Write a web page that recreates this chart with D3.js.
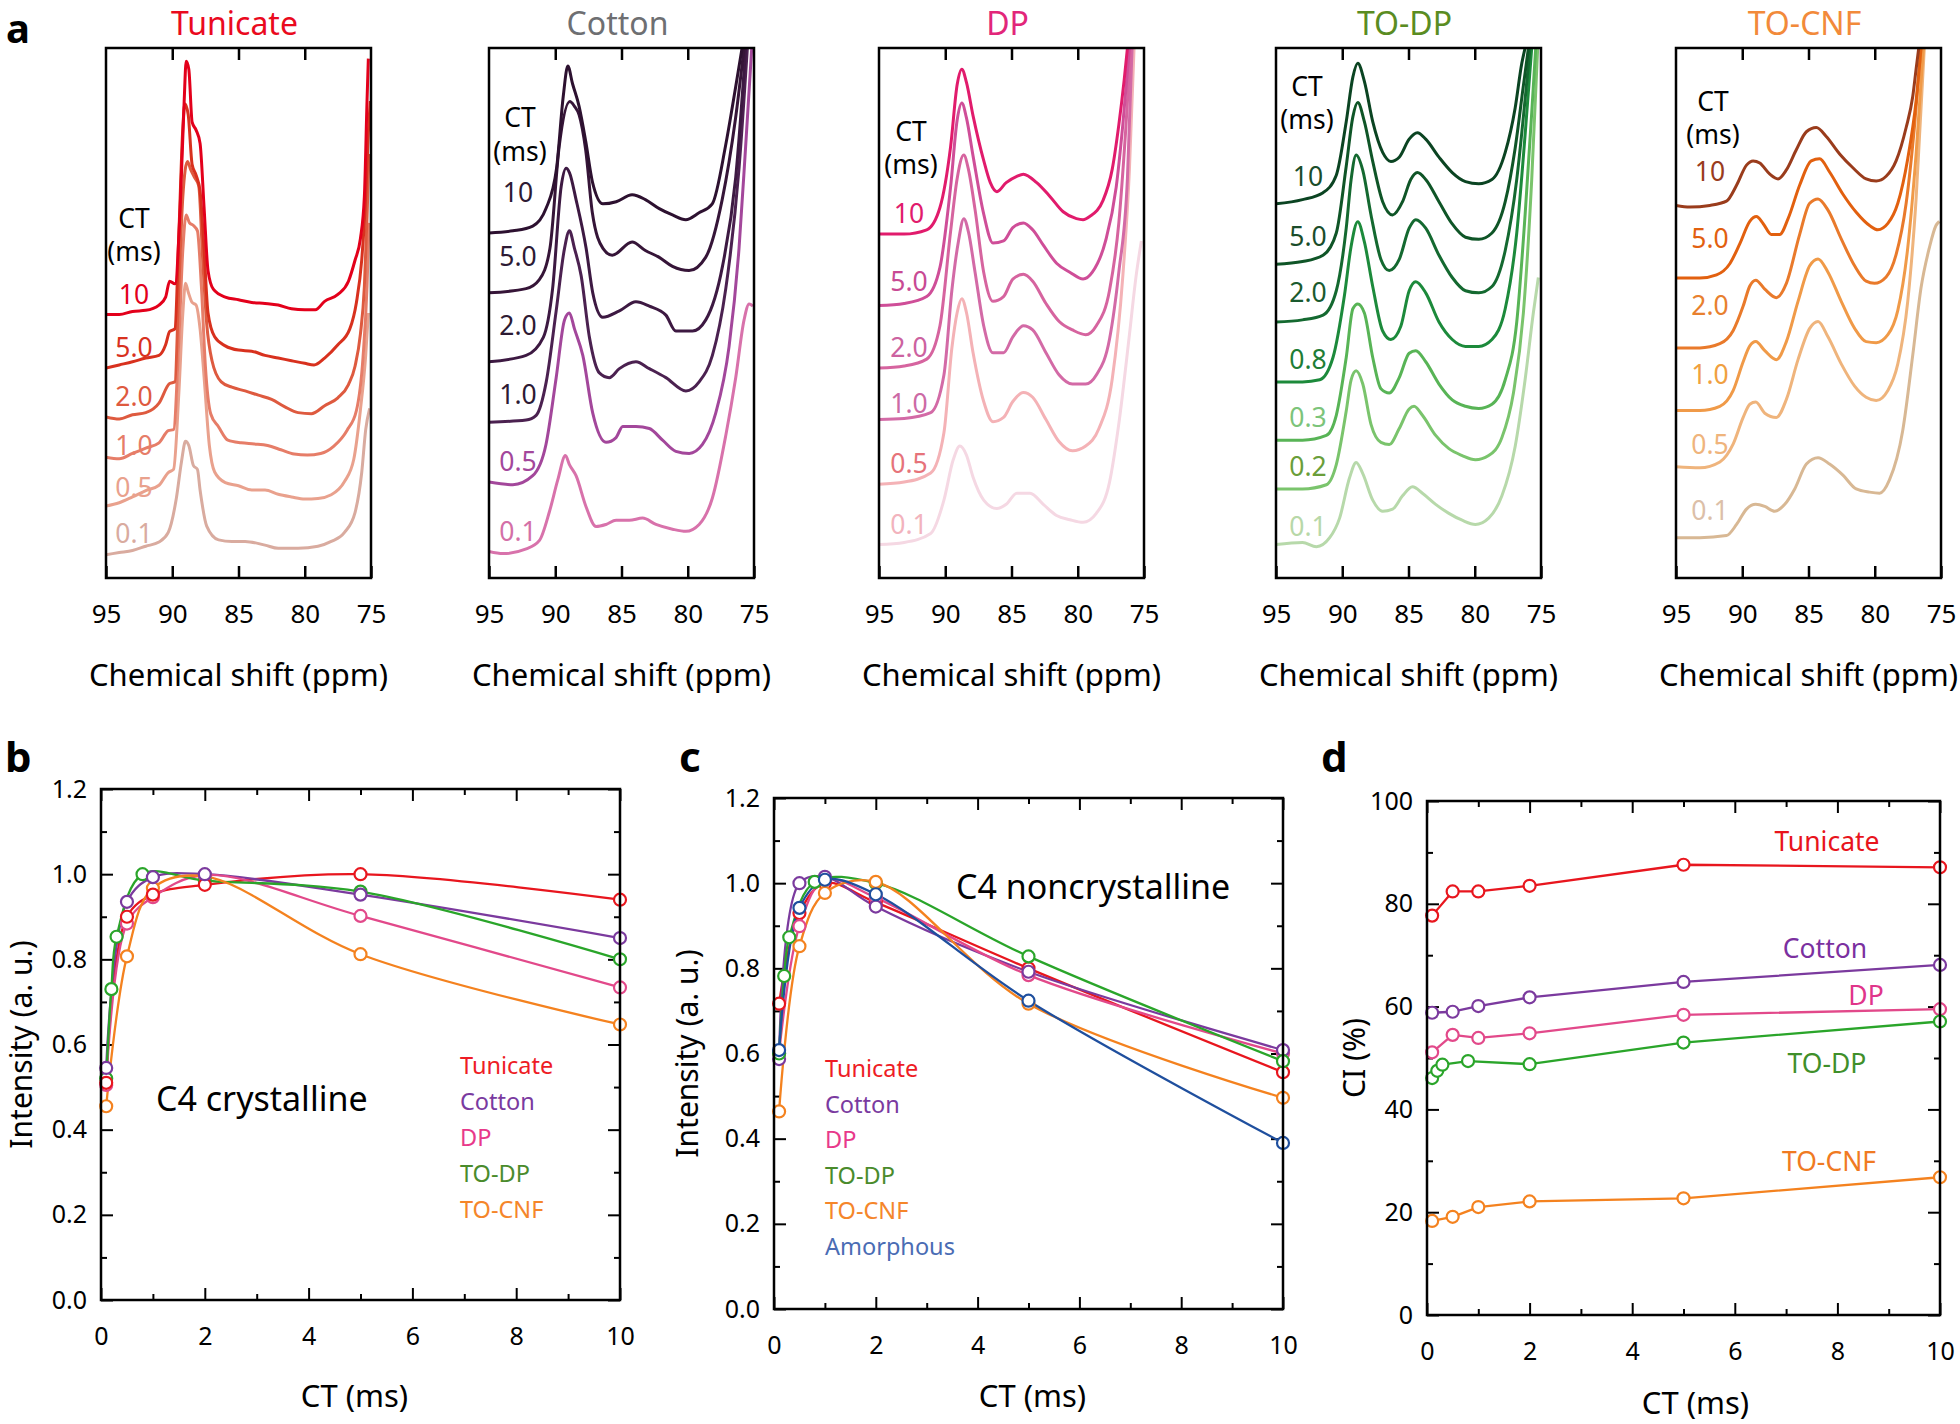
<!DOCTYPE html>
<html><head><meta charset="utf-8">
<script src="https://cdn.jsdelivr.net/npm/d3@7"></script>
<style>
body{margin:0;background:#fff;}
svg{display:block;font-family:"Noto Sans",sans-serif;}
</style></head><body>
<svg id="chart" width="1960" height="1424"></svg>
<script>
// ================= DATA =================
// Panel a: 13C spectra (chemical shift ppm, stacked intensity a.u. 0-100)
const shiftTicks = [95, 90, 85, 80, 75];
const specTitles = ["Tunicate", "Cotton", "DP", "TO-DP", "TO-CNF"];

const tunicateCT = ["10", "5.0", "2.0", "1.0", "0.5", "0.1"];
const tunicateSpectra = [
  [[95,49.7],[94,49.7],[93,50.3],[92,50.5],[91,51.5],[90.5,53],[90.2,56],[89.8,55.5],[89.4,70],[89.1,90],[88.95,97.5],[88.75,96],[88.5,86],[88.2,84.5],[87.9,82],[87.6,70],[87.3,58],[86.9,54.5],[86,53],[85,52.5],[84,52],[83,51.8],[82,51.5],[81,50.8],[80,50.6],[79.2,50.6],[78.5,52.2],[77.5,53.5],[76.7,56],[76.2,60],[75.8,64],[75.5,72],[75.3,90],[75.2,98]],
  [[95,39.6],[94,40.2],[93,40.8],[92,41.5],[91,42],[90.5,44],[90.2,46.5],[89.8,47],[89.5,65],[89.2,85],[89.05,89.5],[88.8,87.5],[88.5,78],[88.2,76],[87.9,73],[87.6,62],[87.3,50],[86.8,45.5],[86,43.8],[85,43],[84,42.8],[83,42],[82,41.5],[81,41],[80,40.5],[79.3,40.2],[78.5,41.5],[77.5,44],[76.6,47],[76.1,52],[75.7,60],[75.4,72],[75.2,84],[75.05,90]],
  [[95,30.4],[94,30],[93,30.8],[92,31.2],[91,33],[90.2,36.7],[89.8,37],[89.5,55],[89.2,72],[88.85,78.6],[88.6,77],[88.3,75.5],[88,74],[87.7,60],[87.4,48],[87,41],[86.3,37],[85.5,36],[84.5,35.3],[83.5,34.5],[82.5,33.7],[81.5,32.3],[80.5,31.2],[79.5,31],[78.5,32.5],[77.5,34],[76.7,36.5],[76.2,40],[75.8,46],[75.5,55],[75.3,68],[75.15,80]],
  [[95,22.8],[94,22.5],[93,23.5],[92,24.5],[91,25.5],[90.3,27.8],[89.9,28],[89.5,45],[89.2,62],[88.95,68.5],[88.7,67],[88.4,66.5],[88.1,65.5],[87.8,55],[87.5,40],[87.1,31],[86.5,28.5],[85.8,26],[84.8,25.5],[83.8,25.3],[82.8,25],[81.8,24.2],[80.8,23.4],[79.8,23.2],[78.8,23.5],[77.8,24.9],[76.8,27.9],[76.1,31.6],[75.6,41.7],[75.3,55],[75.15,67]],
  [[95,13.6],[94,14.2],[93,15.3],[92,16.5],[91,17.5],[90.3,19.9],[89.9,20.5],[89.5,35],[89.2,50],[89,55.6],[88.8,54],[88.5,52],[88.2,51.5],[87.9,47],[87.6,38],[87.2,25],[86.8,20],[86,18],[85,17.4],[84,16.6],[83,16.6],[82,15.8],[81,15.3],[80,14.9],[79,15],[78,15.7],[77,18.2],[76.3,22.4],[75.8,31.7],[75.4,42],[75.2,50]],
  [[95,4.4],[94,4.8],[93,5.2],[92,6],[91,6.8],[90.3,8.6],[89.7,14.9],[89.3,22],[89,25.8],[88.75,25],[88.4,21.2],[88.1,20.5],[87.9,16.6],[87.4,9.8],[86.5,7.2],[85.5,6.9],[84.5,6.9],[83,6.2],[82,5.6],[80.5,5.6],[79,6],[78,6.9],[77,8.6],[76.2,12.4],[75.7,19.9],[75.4,28],[75.1,32]]
];

const cottonCT = ["10", "5.0", "2.0", "1.0", "0.5", "0.1"];
const cottonSpectra = [
  [[95,65.1],[93.2,65.5],[91.7,66.4],[90.7,69.7],[89.9,77.3],[89.4,90.8],[89.05,96.6],[88.7,93.3],[88.2,89],[87.7,82.4],[87.2,74.8],[86.4,70.6],[85.4,71],[84.2,72.3],[83.2,71.4],[82.15,69.7],[81.15,68.5],[80.15,67.6],[79.15,68.9],[78.15,70.6],[77.15,81.5],[76.4,92.4],[75.9,100]],
  [[95,53.8],[92.2,54.6],[91.2,56.3],[90.4,62.2],[89.7,81.5],[88.9,89.9],[88.55,89],[88.2,87.4],[87.7,80.7],[87.2,68.9],[86.4,62.2],[85.7,60.9],[84.2,63.4],[83.2,61.8],[82.15,60.5],[81.15,58.8],[79.9,58],[78.65,60.5],[77.4,71.4],[76.4,86.6],[75.75,100]],
  [[95,40.8],[92.2,42],[90.9,45.4],[90.2,54.6],[89.55,73.9],[89.18,77.3],[88.93,76.5],[88.43,71.4],[87.67,62.2],[87.17,53.8],[86.42,49.2],[85.16,50.4],[83.91,52.1],[82.9,51.3],[81.65,49.6],[80.9,46.6],[79.64,46.6],[78.64,48.7],[77.38,58.8],[76.38,75.6],[75.63,100]],
  [[95,29.4],[92.2,29.8],[91.44,30.7],[90.68,37],[89.93,50.4],[89.3,62.2],[88.93,65.5],[88.55,62.2],[88.05,57.1],[87.42,45.4],[86.67,38.7],[85.92,37.8],[85.16,39.5],[83.91,40.8],[82.9,39.5],[81.65,37.8],[80.14,35.3],[79.14,37],[78.14,42],[77.13,54.6],[76.13,77.3],[75.5,100]],
  [[95,18.1],[93.2,17.6],[91.7,19.3],[90.7,25.2],[89.93,37.8],[89.3,48.7],[88.93,50],[88.55,47],[87.92,42],[87.17,31.1],[86.17,25.6],[85.41,26.5],[84.91,28.6],[83.91,28.6],[82.9,28.2],[81.9,26],[80.9,23.9],[79.89,23.5],[78.89,25.2],[77.89,31.1],[76.88,43.7],[76.13,62.2],[75.63,81.5],[75.17,100]],
  [[95,5],[93.95,4.6],[92.19,5.5],[91.19,7.1],[90.43,12.6],[89.81,18.5],[89.23,23.1],[88.93,21.4],[88.43,19.3],[87.67,13.4],[86.92,9.7],[86.17,10.1],[85.41,10.9],[84.41,10.9],[83.41,11.3],[82.4,10.1],[81.15,9.2],[80.14,8.8],[79.14,10.1],[78.14,15.1],[77.13,26.9],[76.38,37.8],[75.75,48.7],[75.37,51.7],[75.08,51.3]]
];

const dpCT = ["10", "5.0", "2.0", "1.0", "0.5", "0.1"];
const dpSpectra = [
  [[95,64.9],[93.1,64.9],[91.4,65.7],[90.4,69.9],[89.6,81.3],[89.1,93.1],[88.75,96],[88.4,93.5],[87.9,87.2],[87.1,78.8],[86.6,74.6],[86.1,72.9],[85.4,74.6],[84.6,75.8],[84.1,76.2],[83.1,74.6],[82.1,72],[81.1,69.1],[80.1,67.8],[79.6,67.6],[79.1,68.2],[78.1,71.2],[77.4,77.1],[76.9,85.5],[76.5,93.9],[76.25,100]],
  [[95,51.4],[93.1,51.8],[91.4,53.1],[90.4,58.6],[89.6,73.7],[89.1,86.4],[88.75,89.6],[88.4,86.8],[87.9,79.6],[87.1,68.7],[86.4,63.2],[85.6,63.6],[84.9,66.1],[84.1,67],[83.4,65.7],[82.6,62.8],[81.6,59.4],[80.6,57.7],[79.6,56.4],[78.9,57.7],[77.9,63.6],[77.1,73.7],[76.6,85.5],[76.1,100]],
  [[95,39.6],[93.1,40],[91.4,41.3],[90.4,47.6],[89.6,65.3],[89.1,75.4],[88.6,79.8],[88.25,77.1],[87.75,69.5],[87.1,57.7],[86.4,52.2],[85.6,53.1],[84.9,56.4],[84.1,57.3],[83.4,56],[82.4,51.8],[81.4,48.4],[80.4,46.8],[79.4,45.9],[78.6,47.6],[77.6,54.3],[76.9,67],[76.4,83.8],[76,100]],
  [[95,29.9],[93.1,30.1],[91.1,31.2],[90.1,38.3],[89.5,54.3],[89,63.6],[88.6,67.8],[88.25,65.3],[87.75,57.7],[87.1,47.6],[86.4,42.5],[85.6,42.5],[84.9,45.5],[84.1,47.6],[83.4,46.8],[82.4,42.5],[81.4,38.3],[80.4,36.6],[79.4,36.6],[78.6,38.3],[77.6,45.1],[76.9,57.7],[76.25,75.4],[75.9,100]],
  [[95,17.7],[93.1,18.1],[91.1,19.8],[90.1,27.4],[89.5,43.4],[89.1,50.1],[88.75,52.7],[88.4,50.1],[87.9,42.5],[87.1,33.3],[86.4,29.5],[85.6,30.3],[84.9,33.3],[84.1,35],[83.4,34.1],[82.4,29.9],[81.4,25.7],[80.4,24],[79.4,24.9],[78.4,28.2],[77.4,37.5],[76.6,56.9],[76.1,77.1],[75.75,100]],
  [[95,6.3],[93.1,6.7],[91.1,8.4],[90.1,14.7],[89.4,22.3],[88.9,24.9],[88.4,23.2],[87.9,19],[87.1,14.7],[86.1,13.1],[85.4,13.9],[84.6,16],[83.6,16],[82.6,13.9],[81.6,11.8],[80.6,11],[79.6,10.5],[78.6,12.2],[77.6,18.1],[76.9,29.1],[76.1,45.9],[75.6,56.9],[75.2,63.6]]
];

const todpCT = ["10", "5.0", "2.0", "0.8", "0.3", "0.2", "0.1"];
const todpSpectra = [
  [[95,70.6],[93,71.4],[91.45,72.7],[90.45,76],[89.7,86.1],[89.2,94.5],[88.83,97.1],[88.33,93.7],[87.7,86.1],[86.95,80.3],[86.33,78.6],[85.7,79.4],[84.95,82.8],[84.33,84],[83.7,82.8],[82.7,79.4],[81.7,76.5],[80.7,74.8],[79.7,74.4],[78.7,75.2],[77.7,80.3],[76.95,88.7],[76.45,97.1],[76.2,100]],
  [[95,59.2],[93,59.7],[91.45,60.9],[90.45,65.1],[89.7,77.7],[89.2,87],[88.83,89.7],[88.33,86.1],[87.7,78.6],[86.95,71],[86.2,68.5],[85.45,71],[84.83,75.2],[84.33,76.5],[83.7,75.2],[82.7,71],[81.7,66.8],[80.7,64.3],[79.7,63.9],[78.7,65.1],[77.7,71],[76.95,81.1],[76.33,92.9],[75.95,100]],
  [[95,48.3],[93,48.7],[91.45,49.6],[90.45,54.2],[89.7,66],[89.33,75.2],[88.95,79.8],[88.45,76.9],[87.83,68.5],[87.08,60.1],[86.45,58],[85.7,60.1],[84.95,66],[84.45,67.6],[83.7,66],[82.7,60.9],[81.7,56.7],[80.7,54.2],[79.7,53.8],[78.7,55],[77.7,61.8],[76.83,75.2],[76.2,90.3],[75.83,100]],
  [[95,37],[93,37],[91.7,37.4],[90.7,41.6],[89.83,53.4],[89.33,62.6],[88.83,67.2],[88.33,63.4],[87.7,55],[86.95,46.6],[86.33,45],[85.58,47.5],[84.95,54.2],[84.45,55.9],[83.7,53.8],[82.7,48.3],[81.7,45],[80.7,43.7],[79.7,43.7],[78.7,45],[77.7,50.8],[76.83,65.1],[76.2,83.6],[75.7,100]],
  [[95,26],[93,26],[91.2,26.9],[90.45,30.7],[89.7,41.6],[89.2,50.8],[88.83,51.7],[88.33,50],[87.7,41.6],[87.08,35.7],[86.45,34.9],[85.7,37.8],[84.95,42.4],[84.45,42.9],[83.7,40.8],[82.7,36.6],[81.7,33.6],[80.7,32.4],[79.7,32],[78.7,32.8],[77.7,37.4],[76.83,48.3],[76.2,68.5],[75.7,87.8],[75.4,100]],
  [[95,16.8],[93,16.8],[91.2,17.6],[90.45,21.4],[89.7,31.5],[89.33,37.4],[88.95,39.1],[88.45,36.6],[87.83,29],[87.08,25.6],[86.45,25.2],[85.7,28.2],[84.95,31.9],[84.58,32.4],[83.95,30.7],[82.95,26.9],[81.95,24.4],[80.95,23.1],[79.95,22.3],[78.95,23.1],[77.95,26.5],[77.08,34.9],[76.33,50],[75.7,75.2],[75.25,100]],
  [[95,6.3],[93,6.7],[91.95,5.9],[90.95,7.6],[90.2,11.3],[89.45,18.9],[88.95,21.8],[88.45,19.7],[87.7,14.7],[86.95,12.6],[86.2,13],[85.45,15.5],[84.7,17.2],[83.95,16],[82.95,13.9],[81.95,12.2],[80.95,10.9],[79.95,10.1],[78.95,11.3],[77.95,15.5],[76.95,24.8],[76.2,37.4],[75.58,50],[75.2,56.7]]
];

const tocnfCT = ["10", "5.0", "2.0", "1.0", "0.5", "0.1"];
const tocnfSpectra = [
  [[95,70.3],[93.95,70],[92.45,70.3],[91.19,71.1],[90.43,74.1],[89.68,77.9],[89.18,78.7],[88.68,78.3],[87.92,76.2],[87.3,75.3],[86.67,77],[85.92,80.8],[85.16,84.2],[84.41,85],[83.66,83.3],[82.65,80],[81.65,77.4],[80.65,75.3],[79.89,74.9],[79.14,75.8],[78.39,78.7],[77.63,85],[77.13,90.9],[76.88,96],[76.68,100]],
  [[95,56.6],[93.2,56.6],[91.94,57.2],[90.94,59.3],[90.18,63.1],[89.43,67.3],[88.93,68.2],[88.43,66.9],[87.8,64.8],[87.17,64.8],[86.54,67.8],[85.67,74.1],[84.79,78.7],[84.16,79.1],[83.41,76.6],[82.4,72.4],[81.4,69],[80.39,66.5],[79.77,65.7],[79.01,66.9],[78.26,70.7],[77.51,79.1],[76.88,90],[76.51,100]],
  [[95,43.4],[93.2,43.4],[91.69,44.2],[90.68,46.7],[89.93,51.3],[89.43,55.1],[88.98,56.2],[88.3,54.5],[87.42,52.9],[86.67,55.6],[85.67,64.8],[84.91,70.7],[84.28,71.5],[83.53,69.4],[82.53,64],[81.52,58.9],[80.65,56],[80.02,55.6],[79.14,56.8],[78.39,61],[77.63,70.7],[77.01,85],[76.51,100]],
  [[95,31.6],[93.2,31.6],[91.69,32.4],[90.68,35.4],[89.93,40.8],[89.43,43.8],[88.98,44.6],[88.3,42.9],[87.42,41.2],[86.67,44.6],[85.79,52.2],[84.91,58.9],[84.28,60.2],[83.53,57.7],[82.53,52.2],[81.52,47.1],[80.65,44.6],[79.89,44.4],[79.01,45.9],[78.26,50.5],[77.51,62.3],[76.88,80],[76.33,100]],
  [[95,21],[93.2,20.8],[91.69,21.9],[90.68,25.3],[89.93,30.3],[89.43,32.8],[88.98,33.2],[88.3,31.1],[87.42,30.3],[86.67,33.7],[85.79,41.2],[84.91,47.1],[84.28,48.4],[83.53,45.5],[82.53,40.4],[81.52,36.2],[80.65,34.1],[79.89,33.5],[79.01,35.4],[78.26,40.4],[77.51,52.2],[76.88,71.5],[76.26,100]],
  [[95,7.6],[93.2,7.6],[91.19,8],[90.43,10.1],[89.68,13],[88.98,13.9],[88.3,13.5],[87.55,12.6],[86.79,13.9],[86.04,16.8],[85.16,21.5],[84.28,22.7],[83.41,21.5],[82.4,19.4],[81.4,16.8],[80.39,16.2],[79.64,16],[78.89,18.5],[77.89,27.8],[77.13,42.1],[76.51,54.7],[75.88,62.3],[75.38,66.5],[75.13,67.3]]
];

// Panels b-d: contact time (ms)
const ctTicks = [0, 2, 4, 6, 8, 10];
const ctStd = [0.1, 0.5, 1, 2, 5, 10];
const ctTODP = [0.1, 0.2, 0.3, 0.8, 2, 5, 10];
const intensityTicks = [0, 0.2, 0.4, 0.6, 0.8, 1.0, 1.2];
const ciTicks = [0, 20, 40, 60, 80, 100];

// b: C4 crystalline
const crystTunicate = [0.51, 0.90, 0.952, 0.975, 1.0, 0.94];
const crystCotton   = [0.545, 0.935, 0.993, 1.0, 0.952, 0.85];
const crystDP       = [0.505, 0.884, 0.946, 0.998, 0.902, 0.734];
const crystTODP     = [0.52, 0.73, 0.853, 1.0, 0.985, 0.959, 0.80];
const crystTOCNF    = [0.455, 0.807, 0.967, 0.995, 0.812, 0.647];

// c: C4 noncrystalline
const ncTunicate  = [0.717, 0.93, 1.0, 0.955, 0.80, 0.556];
const ncCotton    = [0.587, 1.0, 1.015, 0.945, 0.792, 0.608];
const ncDP        = [0.60, 0.899, 1.008, 0.966, 0.784, 0.60];
const ncTODP      = [0.60, 0.782, 0.873, 1.003, 1.0, 0.828, 0.582];
const ncTOCNF     = [0.464, 0.852, 0.977, 1.003, 0.717, 0.496];
const ncAmorphous = [0.608, 0.942, 1.008, 0.974, 0.724, 0.39];

// d: crystallinity index (%)
const ciTunicate = [77.7, 82.4, 82.4, 83.5, 87.6, 87.1];
const ciCotton   = [58.8, 59.0, 60.1, 61.8, 64.8, 68.1];
const ciDP       = [51.1, 54.5, 53.9, 54.8, 58.4, 59.5];
const ciTODP     = [46.1, 47.5, 48.7, 49.4, 48.8, 53.0, 57.1];
const ciTOCNF    = [18.3, 19.1, 21.0, 22.1, 22.7, 26.8];

// ================= STYLE / LAYOUT =================
const FONT = '"Noto Sans", sans-serif';
const titleColors = ["#ea0a1e", "#6e6f72", "#e2267a", "#5a8c22", "#f28a3a"];
const specColors = [
  ["#e3001b","#d8311e","#de5a3f","#e67d68","#e9a18d","#d9ab9f"],
  ["#2d1130","#361538","#3d1942","#4b2150","#a3479b","#d872ab"],
  ["#e11b6c","#cf4e98","#d6649f","#d36aa6","#f4b2b6","#f5d8e3"],
  ["#0b4422","#0f5527","#146930","#1c8a3b","#58b456","#7ac46c","#b7d9aa"],
  ["#9a3c1c","#e2600f","#e97a2b","#f09a48","#efb47c","#d8b894"]
];
const specLabelColors = [
  ["#e3001b","#d8311e","#de5a3f","#e67d68","#e9a18d","#d9ab9f"],
  ["#2d1a33","#2d1a33","#2d1a33","#2d1a33","#a3479b","#d46fa7"],
  ["#e11b6c","#c84a94","#cc62a0","#cc6aa5","#e6737a","#f2b3bd"],
  ["#1a4d2a","#1a4d2a","#1a5a2e","#1e7d35","#7cc47a","#6a9e3a","#b8d8a8"],
  ["#9a3c1c","#e2600f","#e8802e","#f0a040","#efb47c","#dcbfa8"]
];
const specData = [tunicateSpectra, cottonSpectra, dpSpectra, todpSpectra, tocnfSpectra];
const specCTs = [tunicateCT, cottonCT, dpCT, todpCT, tocnfCT];
const specLayout = [
  {left:106, ctY:219, msY:252, hdrDx:28, lblDx:28, offs:[11,11,11,2,9,12]},
  {left:489, ctY:118, msY:152, hdrDx:31, lblDx:29, offs:[31,27,27,18,11,11]},
  {left:879, ctY:132, msY:165, hdrDx:32, lblDx:30, offs:[11,15,11,7,11,11]},
  {left:1276, ctY:87, msY:120, hdrDx:31, lblDx:32, offs:[18,18,20,13,13,13,9]},
  {left:1676, ctY:102, msY:135, hdrDx:37, lblDx:34, offs:[24,30,33,27,13,18]}
];
const specW = 265, specTop = 48, specBottom = 578;

const lineColors = {tunicate:"#e8161e", cotton:"#7b3a9e", dp:"#e2498a", todp:"#2aa52a", tocnf:"#f4821f", amorphous:"#1f4f9e"};
const legendColors = {tunicate:"#ee1c25", cotton:"#7a3aa0", dp:"#e8398a", todp:"#4a8b2c", tocnf:"#f5862a", amorphous:"#4a6cb4"};

const svg = d3.select("#chart");
svg.append("rect").attr("width",1960).attr("height",1424).attr("fill","#fff");

// ================= PANEL a =================
svg.append("text").attr("x",6).attr("y",43).attr("font-size",40).attr("font-weight","bold").attr("font-family",FONT).text("a");

specData.forEach((traces, i) => {
  const L = specLayout[i];
  const x = d3.scaleLinear().domain([95, 75]).range([L.left, L.left + specW]);
  const y = d3.scaleLinear().domain([0, 100]).range([specBottom, specTop]);
  const g = svg.append("g");
  const clipId = "clipA" + i;
  svg.append("clipPath").attr("id", clipId).append("rect")
    .attr("x", L.left).attr("y", specTop).attr("width", specW).attr("height", specBottom - specTop);

  const line = d3.line().x(d => x(d[0])).y(d => y(d[1])).curve(d3.curveMonotoneX);
  const tg = g.append("g").attr("clip-path", `url(#${clipId})`);
  traces.slice().reverse().forEach((tr, jr) => {
    const j = traces.length - 1 - jr;
    tg.append("path").attr("d", line(tr)).attr("fill","none")
      .attr("stroke", specColors[i][j]).attr("stroke-width", 3).attr("stroke-linejoin","round");
  });

  g.append("rect").attr("x", L.left).attr("y", specTop).attr("width", specW).attr("height", specBottom - specTop)
    .attr("fill","none").attr("stroke","#000").attr("stroke-width",2.5);
  const axB = g.append("g").attr("transform",`translate(0,${specBottom})`)
    .call(d3.axisBottom(x).tickValues(shiftTicks).tickSize(-12).tickPadding(27).tickFormat(d3.format("d")));
  const axT = g.append("g").attr("transform",`translate(0,${specTop})`)
    .call(d3.axisTop(x).tickValues([90,85,80]).tickSize(-12).tickFormat(""));
  [axB, axT].forEach(a => {
    a.select(".domain").remove();
    a.selectAll("line").attr("stroke","#000").attr("stroke-width",2.5);
    a.selectAll("text").attr("font-size",26).attr("font-family",FONT).attr("fill","#000");
  });

  svg.append("text").attr("x", L.left + specW/2 - 4).attr("y", 35).attr("text-anchor","middle")
    .attr("font-size",32).attr("font-family",FONT).attr("fill", titleColors[i]).text(specTitles[i]);
  svg.append("text").attr("x", L.left + specW/2).attr("y", 686).attr("text-anchor","middle")
    .attr("font-size",31).attr("font-family",FONT).attr("fill","#000").text("Chemical shift (ppm)");
  svg.append("text").attr("x", L.left + L.hdrDx).attr("y", L.ctY + 9).attr("text-anchor","middle")
    .attr("font-size",26.5).attr("font-family",FONT).attr("fill","#000").text("CT");
  svg.append("text").attr("x", L.left + L.hdrDx).attr("y", L.msY + 9).attr("text-anchor","middle")
    .attr("font-size",26.5).attr("font-family",FONT).attr("fill","#000").text("(ms)");
  specCTs[i].forEach((lab, j) => {
    svg.append("text").attr("x", L.left + L.lblDx).attr("y", y(traces[j][0][1]) - L.offs[j])
      .attr("text-anchor","middle").attr("font-size",26.5).attr("font-family",FONT)
      .attr("fill", specLabelColors[i][j]).text(lab);
  });
});

// ================= PANELS b, c, d =================
function framedPanel(cfg) {
  const x = d3.scaleLinear().domain([0, 10]).range([cfg.left, cfg.right]);
  const y = d3.scaleLinear().domain(cfg.yDomain).range([cfg.bottom, cfg.top]);
  const g = svg.append("g");
  const styleAxis = a => {
    a.select(".domain").remove();
    a.selectAll("line").attr("stroke","#000").attr("stroke-width",2);
    a.selectAll("text").attr("font-size",25).attr("font-family",FONT).attr("fill","#000");
  };
  styleAxis(g.append("g").attr("transform",`translate(0,${cfg.bottom})`)
    .call(d3.axisBottom(x).tickValues(ctTicks).tickSize(-12).tickPadding(27).tickFormat(d3.format("d"))));
  styleAxis(g.append("g").attr("transform",`translate(0,${cfg.bottom})`)
    .call(d3.axisBottom(x).tickValues([1,3,5,7,9]).tickSize(-6).tickFormat("")));
  styleAxis(g.append("g").attr("transform",`translate(0,${cfg.top})`)
    .call(d3.axisTop(x).tickValues(ctTicks).tickSize(-12).tickFormat("")));
  styleAxis(g.append("g").attr("transform",`translate(0,${cfg.top})`)
    .call(d3.axisTop(x).tickValues([1,3,5,7,9]).tickSize(-6).tickFormat("")));
  styleAxis(g.append("g").attr("transform",`translate(${cfg.left},0)`)
    .call(d3.axisLeft(y).tickValues(cfg.yTicks).tickSize(-12).tickPadding(14).tickFormat(cfg.yFormat)));
  styleAxis(g.append("g").attr("transform",`translate(${cfg.left},0)`)
    .call(d3.axisLeft(y).tickValues(cfg.yMinor).tickSize(-6).tickFormat("")));
  styleAxis(g.append("g").attr("transform",`translate(${cfg.right},0)`)
    .call(d3.axisRight(y).tickValues(cfg.yTicks).tickSize(-12).tickFormat("")));
  styleAxis(g.append("g").attr("transform",`translate(${cfg.right},0)`)
    .call(d3.axisRight(y).tickValues(cfg.yMinor).tickSize(-6).tickFormat("")));

  const line = d3.line().x(d => x(d[0])).y(d => y(d[1])).curve(cfg.curve);
  const sg = g.append("g");
  cfg.series.forEach(s => {
    const pts = s.ct.map((c, k) => [c, s.vals[k]]);
    sg.append("path").attr("d", line(pts)).attr("fill","none").attr("stroke", s.color)
      .attr("stroke-width", 2.3).attr("stroke-linejoin","round");
  });
  cfg.markerOrder.forEach(idx => {
    const s = cfg.series[idx];
    sg.selectAll(null).data(s.ct.map((c, k) => [c, s.vals[k]])).join("circle")
      .attr("cx", d => x(d[0])).attr("cy", d => y(d[1])).attr("r", 6)
      .attr("fill","#fff").attr("stroke", s.color).attr("stroke-width", 2.2);
  });
  g.append("rect").attr("x", cfg.left).attr("y", cfg.top).attr("width", cfg.right - cfg.left)
    .attr("height", cfg.bottom - cfg.top).attr("fill","none").attr("stroke","#000").attr("stroke-width",2.5);

  svg.append("text").attr("x", (cfg.left + cfg.right)/2 + cfg.xTitleDx).attr("y", cfg.xTitleY).attr("text-anchor","middle")
    .attr("font-size",31).attr("font-family",FONT).attr("fill","#000").text("CT (ms)");
  svg.append("text").attr("transform",`translate(${cfg.yTitleX},${(cfg.top + cfg.bottom)/2}) rotate(-90)`)
    .attr("text-anchor","middle").attr("font-size",30).attr("font-family",FONT).attr("fill","#000").text(cfg.yTitle);
  svg.append("text").attr("x", cfg.letterX).attr("y", 772).attr("font-size",42).attr("font-weight","bold")
    .attr("font-family",FONT).attr("fill","#000").text(cfg.letter);
  return {x, y};
}

const intensityMinor = [0.1, 0.3, 0.5, 0.7, 0.9, 1.1];
const catmull = d3.curveCatmullRom.alpha(0.5);

// b
framedPanel({
  left:101, right:620, top:789, bottom:1300, yDomain:[0,1.2], yTicks:intensityTicks, yMinor:intensityMinor,
  yFormat:d3.format(".1f"), curve:catmull, xTitleY:1407, xTitleDx:-6, yTitleX:32, yTitle:"Intensity (a. u.)",
  letter:"b", letterX:5,
  series:[
    {ct:ctStd, vals:crystTunicate, color:lineColors.tunicate},
    {ct:ctStd, vals:crystCotton, color:lineColors.cotton},
    {ct:ctStd, vals:crystDP, color:lineColors.dp},
    {ct:ctTODP, vals:crystTODP, color:lineColors.todp},
    {ct:ctStd, vals:crystTOCNF, color:lineColors.tocnf}
  ],
  markerOrder:[4,3,2,0,1]
});
svg.append("text").attr("x",156).attr("y",1111).attr("font-size",34).attr("font-family",FONT).attr("fill","#000").text("C4 crystalline");
const legB = [["Tunicate",legendColors.tunicate],["Cotton",legendColors.cotton],["DP",legendColors.dp],["TO-DP",legendColors.todp],["TO-CNF",legendColors.tocnf]];
legB.forEach((d, k) => svg.append("text").attr("x",460).attr("y",1074 + k*36).attr("font-size",23.5)
  .attr("font-family",FONT).attr("fill",d[1]).text(d[0]));

// c
framedPanel({
  left:774, right:1283, top:798, bottom:1309, yDomain:[0,1.2], yTicks:intensityTicks, yMinor:intensityMinor,
  yFormat:d3.format(".1f"), curve:catmull, xTitleY:1407, xTitleDx:4, yTitleX:698, yTitle:"Intensity (a. u.)",
  letter:"c", letterX:679,
  series:[
    {ct:ctStd, vals:ncTunicate, color:lineColors.tunicate},
    {ct:ctStd, vals:ncCotton, color:lineColors.cotton},
    {ct:ctStd, vals:ncDP, color:lineColors.dp},
    {ct:ctTODP, vals:ncTODP, color:lineColors.todp},
    {ct:ctStd, vals:ncTOCNF, color:lineColors.tocnf},
    {ct:ctStd, vals:ncAmorphous, color:lineColors.amorphous}
  ],
  markerOrder:[0,2,1,3,4,5]
});
svg.append("text").attr("x",956).attr("y",899).attr("font-size",34).attr("font-family",FONT).attr("fill","#000").text("C4 noncrystalline");
const legC = legB.concat([["Amorphous",legendColors.amorphous]]);
legC.forEach((d, k) => svg.append("text").attr("x",825).attr("y",1077 + k*35.5).attr("font-size",23.5)
  .attr("font-family",FONT).attr("fill",d[1]).text(d[0]));

// d
framedPanel({
  left:1427, right:1940, top:801, bottom:1315, yDomain:[0,100], yTicks:ciTicks, yMinor:[10,30,50,70,90],
  yFormat:d3.format("d"), curve:d3.curveLinear, xTitleY:1414, xTitleDx:12, yTitleX:1365, yTitle:"CI (%)",
  letter:"d", letterX:1321,
  series:[
    {ct:ctStd, vals:ciTunicate, color:lineColors.tunicate},
    {ct:ctStd, vals:ciCotton, color:lineColors.cotton},
    {ct:ctStd, vals:ciDP, color:lineColors.dp},
    {ct:ctTODP, vals:ciTODP, color:lineColors.todp},
    {ct:ctStd, vals:ciTOCNF, color:lineColors.tocnf}
  ],
  markerOrder:[0,1,2,3,4]
});
const labD = [["Tunicate","#e8141c",1827,851],["Cotton","#7b30a0",1825,958],["DP","#e0358a",1866,1005],["TO-DP","#3f8f2a",1827,1073],["TO-CNF","#f07a22",1829,1171]];
labD.forEach(d => svg.append("text").attr("x",d[2]).attr("y",d[3]).attr("text-anchor","middle")
  .attr("font-size",26.5).attr("font-family",FONT).attr("fill",d[1]).text(d[0]));
</script>
</body></html>
